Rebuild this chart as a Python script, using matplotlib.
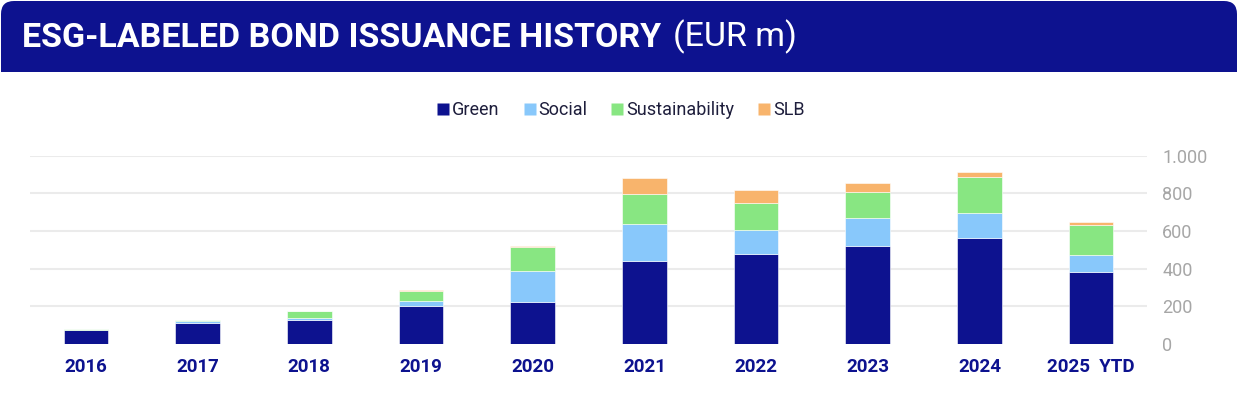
import matplotlib
matplotlib.use("Agg")
import matplotlib.pyplot as plt
from matplotlib.patches import FancyBboxPatch, Rectangle
from matplotlib.lines import Line2D
from matplotlib.transforms import IdentityTransform
from matplotlib.ticker import FuncFormatter
import numpy as np

# Data (EUR m)
years = ["2016", "2017", "2018", "2019", "2020", "2021", "2022", "2023", "2024", "2025  YTD"]
green = [76, 113, 129, 201, 224, 443, 478, 522, 563, 384]
social = [0, 9, 7, 25, 166, 192, 130, 148, 135, 87]
sustainability = [5, 8, 39, 58, 127, 160, 142, 136, 187, 160]
slb = [0, 0, 0, 5, 5, 85, 68, 51, 29, 18]

SERIES = ["Green", "Social", "Sustainability", "SLB"]
COLORS = ["#0d128f", "#88c8fb", "#88e682", "#f8b46c"]
NAVY = "#0d128f"

W, H = 1240, 397
fig = plt.figure(figsize=(W / 100, H / 100), dpi=100)
fig.patch.set_facecolor("white")

# Header banner (pixel coords, rounded top corners)
top_box = FancyBboxPatch((1, 300), 1236, 96, boxstyle="round,pad=0,rounding_size=13",
                         transform=IdentityTransform(), facecolor=NAVY, edgecolor="none")
white_box = Rectangle((0, 280), W, 45, transform=IdentityTransform(),
                      facecolor="white", edgecolor="none")
bottom_box = Rectangle((1, 325), 1236, 40, transform=IdentityTransform(),
                       facecolor=NAVY, edgecolor="none")
fig.patches.extend([top_box, white_box, bottom_box])

title = fig.text(22 / W, 1 - 46.7 / H, "ESG-LABELED BOND ISSUANCE HISTORY", color="white",
                 fontsize=24.5, fontweight="bold", family="Roboto", va="baseline", ha="left")
renderer = fig.canvas.get_renderer()
title_end = title.get_window_extent(renderer).x1
fig.text((title_end + 12) / W, 1 - 46.7 / H, "(EUR m)", color="white",
         fontsize=24.5, family="Roboto", va="baseline", ha="left")

# Plot
ax = fig.add_axes([30 / W, 1 - 344 / H, (1147 - 30) / W, (344 - 155.7) / H])
x = np.arange(len(years))
bottom = np.zeros(len(years))
for vals, name, col in zip([green, social, sustainability, slb], SERIES, COLORS):
    ax.bar(x, vals, width=0.4, bottom=bottom, color=col, edgecolor="white",
           linewidth=0.4, label=name, zorder=3)
    bottom += np.array(vals)

ax.set_xlim(-0.5, 9.5)
ax.set_ylim(0, 1000)
ax.set_yticks([0, 200, 400, 600, 800, 1000])
ax.yaxis.set_major_formatter(FuncFormatter(lambda v, p: f"{v:,.0f}".replace(",", ".")))
ax.yaxis.tick_right()
ax.tick_params(axis="y", length=0, pad=11, labelsize=13, labelcolor="#a6a6a6")
for lbl in ax.get_yticklabels():
    lbl.set_family("Roboto")
ax.set_xticks(x)
ax.set_xticklabels(years, fontweight="bold", color=NAVY, fontsize=13.5, family="Roboto")
ax.tick_params(axis="x", length=0, pad=10)

for v in [200, 400, 600, 800, 1000]:
    ax.axhline(v, color="#ebebeb", linewidth=1.5, zorder=1)
for s in ax.spines.values():
    s.set_visible(False)

handles = [Line2D([], [], marker="s", linestyle="none", markersize=8,
                  markerfacecolor=c, markeredgecolor="none") for c in COLORS]
fig.legend(handles, SERIES, loc="center", bbox_to_anchor=(0.5, 1 - 110 / H),
           ncol=4, frameon=False, handletextpad=0.05, columnspacing=1.2,
           handlelength=0.9, prop={"family": "Roboto", "size": 13},
           labelcolor="#1e1e3c")

fig.savefig("out.png", dpi=100)
